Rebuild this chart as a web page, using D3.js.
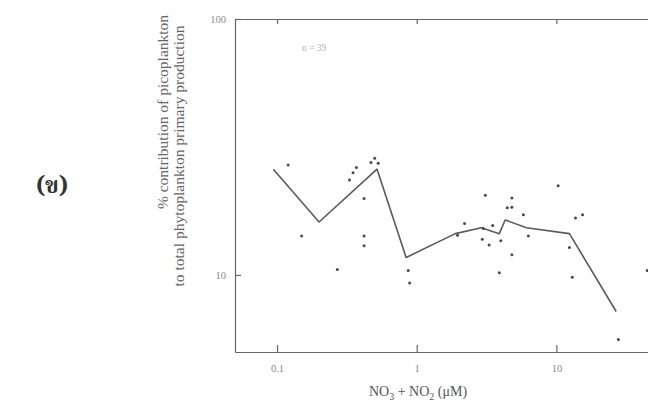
<!DOCTYPE html>
<html>
<head>
<meta charset="utf-8">
<script src="https://cdn.jsdelivr.net/npm/d3@7/dist/d3.min.js"></script>
<style>
  body { margin: 0; background: #fff; }
  svg { display: block; }
  text { font-family: "Liberation Serif", "DejaVu Serif", serif; }
</style>
</head>
<body>
<div id="chart"></div>
<script>
const width = 648
const height = 406

// NO3 + NO2 (uM) and % picoplankton contribution
const pointX = [0.12, 0.15, 0.27, 0.33, 0.35, 0.37, 0.42, 0.42, 0.42, 0.47, 0.50, 0.53,
  0.87, 0.89, 3.1, 4.8, 4.45, 4.8, 5.8, 10.3, 13.7, 15.4, 2.2, 1.96, 3.5, 2.95, 3.3, 4.0,
  4.8, 6.3, 12.4, 3.9, 13.0, 27.8, 44.7, 3.0]
const pointY = [26.9, 14.2, 10.5, 23.5, 25.1, 26.3, 19.9, 14.2, 13.0, 27.5, 28.6, 27.3,
  10.4, 9.3, 20.5, 20.0, 18.3, 18.4, 17.2, 22.3, 16.7, 17.2, 15.9, 14.3, 15.6, 13.8, 13.1, 13.6,
  12.0, 14.2, 12.8, 10.2, 9.8, 5.6, 10.4, 15.2]

// running mean line
const lineX = [0.094, 0.20, 0.52, 0.84, 1.89, 2.9, 3.9, 4.3, 6.1, 12.4, 26.8]
const lineY = [25.9, 16.1, 25.9, 11.7, 14.5, 15.3, 14.5, 16.4, 15.3, 14.5, 7.2]

const xTicks = [0.1, 1, 10]
const xTickLabels = ["0.1", "1", "10"]
const yTicks = [10, 100]
const yTickLabels = ["10", "100"]

const svg = d3.select("#chart").append("svg")
  .attr("width", width)
  .attr("height", height)

const plotLeft = 235, plotRight = 654, plotTop = 19, plotBottom = 352

const x = d3.scaleLog().domain([0.05, 50]).range([plotLeft, plotRight])
const y = d3.scaleLog().domain([5, 100]).range([plotBottom, plotTop])

/* axes */

svg.append("g")
  .attr("transform", `translate(0,${plotBottom})`)
  .call(d3.axisBottom(x).tickValues(xTicks)
    .tickFormat((d, i) => xTickLabels[i])
    .tickSizeInner(-7).tickSizeOuter(0).tickPadding(13))

svg.append("g")
  .attr("transform", `translate(0,${plotTop})`)
  .call(d3.axisTop(x).tickValues(xTicks).tickFormat("")
    .tickSizeInner(-5).tickSizeOuter(0))

svg.append("g")
  .attr("transform", `translate(${plotLeft},0)`)
  .call(d3.axisLeft(y).tickValues(yTicks)
    .tickFormat((d, i) => yTickLabels[i])
    .tickSizeInner(-6).tickSizeOuter(0).tickPadding(9))

svg.selectAll(".domain, .tick line")
  .attr("stroke", "#666")
  .attr("stroke-width", 1.2)

svg.selectAll(".tick text")
  .attr("fill", "#8a8a8a")
  .style("font-family", "'Liberation Serif', serif")
  .style("font-size", "10.5px")

/* mean line */

const line = d3.line()
  .x(d => x(d[0]))
  .y(d => y(d[1]))

svg.append("path")
  .datum(lineX.map((d, i) => [d, lineY[i]]))
  .attr("d", line)
  .attr("fill", "none")
  .attr("stroke", "#5a5a5a")
  .attr("stroke-width", 1.6)
  .attr("stroke-linejoin", "round")

/* points */

svg.append("g")
  .selectAll("circle")
  .data(pointX.map((d, i) => [d, pointY[i]]))
  .join("circle")
  .attr("cx", d => x(d[0]))
  .attr("cy", d => y(d[1]))
  .attr("r", 1.5)
  .attr("fill", "#4a4a4a")

/* labels */

svg.append("text")
  .attr("x", 302)
  .attr("y", 51)
  .attr("fill", "#b5b5b5")
  .style("font-size", "9.5px")
  .text("n = 39")

const xTitle = svg.append("text")
  .attr("x", 418)
  .attr("y", 396)
  .attr("text-anchor", "middle")
  .attr("fill", "#555")
  .style("font-size", "14px")
xTitle.append("tspan").text("NO")
xTitle.append("tspan").attr("dy", 4).style("font-size", "10px").text("3")
xTitle.append("tspan").attr("dy", -4).text(" + NO")
xTitle.append("tspan").attr("dy", 4).style("font-size", "10px").text("2")
xTitle.append("tspan").attr("dy", -4).text(" (μM)")

svg.append("text")
  .attr("transform", "translate(168,112) rotate(-90)")
  .attr("text-anchor", "middle")
  .attr("fill", "#666")
  .style("font-size", "15.5px")
  .text("% contribution of picoplankton")

svg.append("text")
  .attr("transform", "translate(184,156) rotate(-90)")
  .attr("text-anchor", "middle")
  .attr("fill", "#666")
  .style("font-size", "15.5px")
  .text("to total phytoplankton primary production")

svg.append("text")
  .attr("x", 52)
  .attr("y", 193)
  .attr("text-anchor", "middle")
  .attr("fill", "#333")
  .style("font-size", "23px")
  .style("font-weight", "bold")
  .style("font-family", "'Noto Serif Thai', 'Noto Sans Thai', 'DejaVu Serif', 'Noto Sans', serif")
  .text("(ข)")
</script>
</body>
</html>
